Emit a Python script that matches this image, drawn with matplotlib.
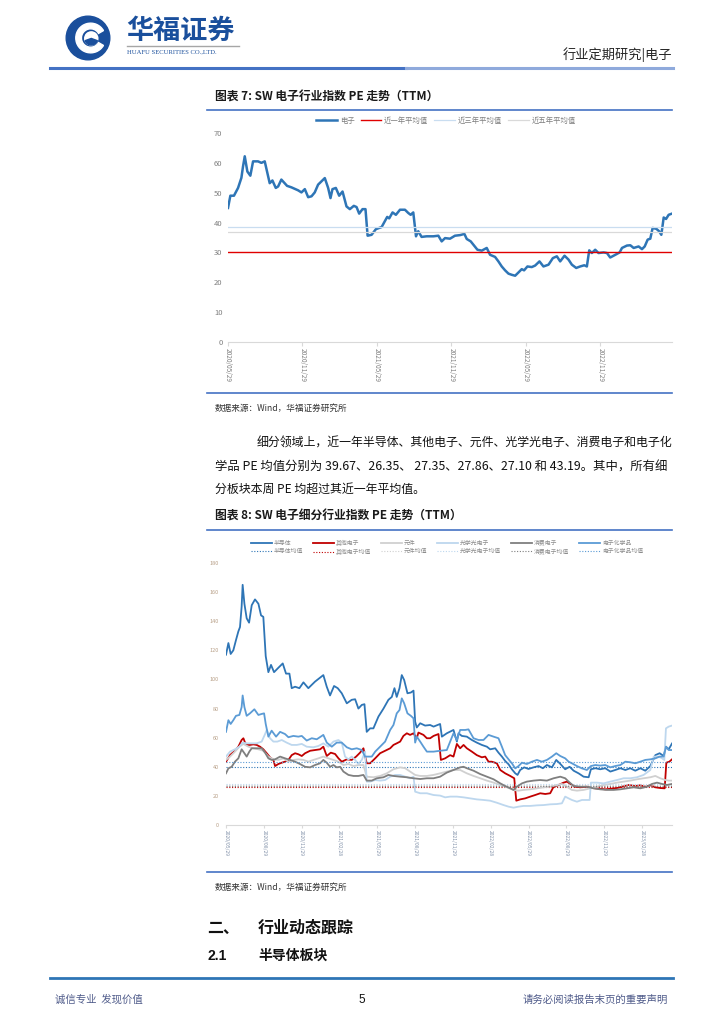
import matplotlib
matplotlib.use("Agg")
import matplotlib.pyplot as plt
from matplotlib.lines import Line2D
from matplotlib.patches import Circle, Wedge

plt.rcParams['font.family'] = ['Noto Sans CJK SC', 'DejaVu Sans']

# -------- data: chart 7 (SW electronics PE, months since 2020/05/29) --------
ele_month = [0, 0.19, 0.48, 0.81, 1.08, 1.21, 1.35, 1.56, 1.80, 2.02,
             2.42, 2.69, 2.96, 3.36, 3.58, 3.85, 4.04, 4.30, 4.76, 5.11,
             5.65, 5.92, 6.19, 6.46, 6.73, 6.99, 7.26, 7.80, 8.07, 8.26,
             8.42, 8.69, 8.96, 9.23, 9.55, 9.82, 10.14, 10.36, 10.57, 10.84,
             11.08, 11.25, 11.57, 11.92, 12.38, 12.83, 12.99, 13.26, 13.53, 13.86,
             14.26, 14.53, 14.72, 14.93, 15.15, 15.33, 15.60, 16.01, 16.55, 16.95,
             17.22, 17.49, 17.89, 18.29, 18.70, 19.05, 19.24, 19.56, 19.83, 20.10,
             20.45, 20.85, 21.12, 21.52, 21.79, 22.06, 22.33, 22.60, 22.87, 23.14,
             23.41, 23.67, 23.86, 24.13, 24.48, 24.75, 25.10, 25.42, 25.83, 26.18,
             26.50, 26.77, 27.12, 27.44, 27.71, 28.06, 28.38, 28.71, 28.92, 29.11,
             29.32, 29.59, 29.86, 30.27, 30.54, 30.80, 31.21, 31.56, 31.75, 32.15,
             32.42, 32.69, 33.09, 33.36, 33.58, 33.82, 34.03, 34.22, 34.52, 34.74,
             34.92, 35.11, 35.30, 35.51, 35.78]
ele_pe = [44.9, 49.0, 49.0, 51.6, 55.0, 58.8, 62.2, 57.1, 55.7, 60.5,
          60.5, 60.0, 60.5, 53.2, 54.1, 51.6, 52.1, 54.4, 52.3, 51.8,
          50.8, 50.1, 51.2, 48.5, 48.8, 50.1, 52.7, 54.9, 51.6, 48.2,
          51.2, 51.6, 49.0, 50.4, 45.4, 44.5, 45.6, 45.2, 43.0, 44.5,
          44.5, 35.6, 35.9, 37.8, 38.5, 41.9, 41.4, 43.4, 42.6, 44.3,
          44.3, 43.2, 42.6, 43.4, 35.4, 37.1, 35.2, 35.4, 35.4, 35.6,
          33.7, 34.8, 34.6, 35.6, 35.8, 36.2, 34.5, 33.7, 32.3, 30.9,
          30.6, 31.5, 29.2, 28.5, 27.0, 25.3, 24.0, 22.9, 22.5, 22.2,
          23.3, 24.4, 24.0, 25.3, 25.1, 25.6, 27.0, 25.3, 25.9, 28.1,
          28.7, 27.0, 28.9, 27.6, 25.9, 24.8, 25.3, 25.7, 25.3, 30.7,
          29.8, 30.9, 29.8, 30.0, 29.8, 28.3, 29.2, 30.0, 31.5, 32.3,
          32.4, 31.5, 32.0, 31.1, 32.0, 34.3, 34.6, 38.2, 37.9, 37.1,
          35.9, 41.7, 41.2, 42.6, 43.0]
avg_1y = 30.0
avg_3y = 38.5
avg_5y = 37.0
ticks7 = [0, 6, 12, 18, 24, 30]
tick_labels7 = ["2020/05/29", "2020/11/29", "2021/05/29",
                "2021/11/29", "2022/05/29", "2022/11/29"]

# -------- data: chart 8 (sub-sector PE) --------
semi_m = [0, 0.19, 0.37, 0.58, 0.79, 0.98, 1.11, 1.24, 1.32, 1.46, 1.64, 1.83, 2.04, 2.30,
          2.57, 2.78, 2.96, 3.15, 3.36, 3.57, 3.81, 4.15, 4.50, 4.76, 5.03, 5.21, 5.48,
          5.82, 6.14, 6.53, 7.06, 7.72, 7.99, 8.25, 8.57, 8.86, 9.18, 9.58, 9.97, 10.24,
          10.50, 10.77, 10.98, 11.16, 11.43, 11.69, 12.09, 12.49, 12.88, 13.15, 13.36,
          13.54, 13.76, 13.94, 14.13, 14.39, 14.66, 14.87, 15.00, 15.13, 15.40, 15.79,
          16.19, 16.46, 16.98, 17.12, 17.51, 18.04, 18.31, 18.44, 18.70, 19.10, 19.50,
          19.89, 20.29, 20.69, 20.95, 21.35, 21.61, 21.88, 22.14, 22.41, 22.67, 22.94,
          23.12, 23.33, 23.65, 23.99, 24.39, 24.79, 25.13, 25.45, 25.85, 26.19, 26.51,
          26.90, 27.25, 27.57, 27.96, 28.36, 28.76, 28.94, 29.29, 29.68, 30.08, 30.48,
          30.87, 31.27, 31.67, 32.06, 32.46, 32.86, 33.25, 33.65, 34.05, 34.39, 34.71,
          34.89, 35.11, 35.37]
semi_pe = [117, 125, 117.5, 120, 127, 133, 136, 150, 165, 152, 142, 139, 151, 155,
           152, 144, 143, 116, 105, 110, 105, 108, 111, 104, 104, 94, 95,
           94, 98, 94, 98.5, 103, 95, 89, 95.5, 94, 90.5, 83.6, 86, 86.4,
           80, 82.5, 83, 64, 66.4, 66.4, 74.5, 80, 86, 88, 94,
           88, 94, 103, 99.6, 90.5, 91, 92.3, 71, 67, 69.9, 68.3,
           68.7, 67.6, 69.4, 60.7, 63, 65.3, 57.3, 63, 61.2, 60.7, 58.4,
           56.6, 55, 53.8, 52, 52.7, 49.7, 47, 44, 41.7, 38.3, 35.5,
           34.4, 37.8, 39.6, 38.5, 39.6, 40.5, 39, 41.2, 39.6, 44.7, 42,
           38.3, 40, 37.3, 35.5, 33.2, 32.8, 38.3, 39, 38.3, 39, 36.7,
           37.8, 39, 37.8, 39, 37.3, 39, 37.3, 40.5, 48, 49.3, 47.4,
           53.8, 52, 56]

chem_m = [0, 0.19, 0.37, 0.58, 0.79, 1.06, 1.24, 1.32, 1.46, 1.64, 1.90, 2.25, 2.57,
          2.83, 3.02, 3.15, 3.36, 3.62, 3.97, 4.29, 4.68, 4.95, 5.34, 5.74, 6.01, 6.40,
          6.80, 7.20, 7.72, 7.99, 8.39, 8.78, 9.18, 9.58, 9.97, 10.37, 10.77, 11.03,
          11.30, 11.56, 11.83, 12.22, 12.62, 13.02, 13.28, 13.54, 13.76, 13.94, 14.13,
          14.39, 14.66, 14.87, 15.00, 15.13, 15.40, 15.66, 15.93, 16.46, 16.98, 17.51,
          18.04, 18.31, 18.57, 18.97, 19.23, 19.63, 20.03, 20.42, 20.82, 21.22, 21.61,
          21.88, 22.14, 22.41, 22.67, 22.94, 23.20, 23.47, 23.86, 24.26, 24.66, 25.05,
          25.45, 25.85, 26.19, 26.51, 26.90, 27.17, 27.43, 27.83, 28.23, 28.62, 28.94,
          29.29, 29.68, 30.08, 30.48, 30.87, 31.27, 31.67, 32.06, 32.46, 32.86, 33.25,
          33.65, 34.05, 34.39, 34.71, 34.89, 35.11, 35.37]
chem_pe = [64, 72, 69.4, 72, 75, 75.6, 81, 89, 81, 75, 76.7, 79.5, 75.6,
           76.3, 76.7, 69.4, 60.7, 64.8, 60.7, 64, 62.5, 60.3, 61.2, 60.7, 61.2, 58,
           59.6, 58.9, 61.9, 56.6, 53.8, 56.6, 56.6, 53.4, 52, 52.7, 51.5, 47,
           47, 47, 50.4, 53.8, 57.3, 65.3, 68.7, 76.7, 79, 87, 83.6,
           76.7, 75, 73.3, 56.6, 60.7, 57.3, 53.8, 50.4, 50.4, 51, 51.5,
           63, 58.4, 65.3, 65.3, 65.7, 59.6, 58.4, 58.4, 61.9, 60.7, 59.6,
           53.8, 48, 45.1, 42.4, 38.9, 40.5, 42.8, 41.9, 43.5, 44.7, 43.5,
           44.7, 47, 49.3, 47.4, 45.8, 43.5, 42.4, 40.5, 38.9, 37.8, 40.5,
           41.2, 40.8, 41.2, 39.6, 40.5, 41.2, 43.5, 43.1, 42.4, 43.5, 44.7,
           45.1, 45.8, 47, 47, 53.8, 51.5, 51.5]

other_m = [0, 0.32, 0.71, 0.98, 1.24, 1.38, 1.51, 1.64, 1.90, 2.17, 2.43, 2.70, 2.96,
           3.23, 3.49, 3.76, 3.89, 4.15, 4.42, 4.68, 4.95, 5.21, 5.48, 5.74, 6.01, 6.27,
           6.67, 7.06, 7.46, 7.72, 7.99, 8.31, 8.65, 8.92, 9.18, 9.58, 9.97, 10.32,
           10.63, 10.90, 11.16, 11.43, 11.83, 12.22, 12.62, 13.02, 13.28, 13.54, 13.81,
           14.07, 14.34, 14.60, 14.87, 15.13, 15.26, 15.66, 15.93, 16.19, 16.46, 16.85,
           17.04, 17.38, 17.78, 18.04, 18.31, 18.57, 18.84, 19.10, 19.50, 19.89, 20.29,
           20.56, 20.82, 21.08, 21.48, 21.75, 22.14, 22.54, 22.86, 23.02, 23.33, 23.73,
           24.13, 24.52, 24.92, 25.32, 25.71, 25.98, 26.38, 26.77, 27.04, 27.30, 27.70,
           28.10, 28.62, 29.02, 29.55, 30.08, 30.61, 31.01, 31.40, 31.93, 32.46, 32.86,
           33.25, 33.65, 34.05, 34.44, 34.79, 34.92, 35.16, 35.37]
other_pe = [43.5, 48, 51, 53.8, 58.4, 59.6, 56.6, 55, 55, 55.4, 55, 53.8, 52,
            49.3, 46.5, 44.7, 40.5, 41.9, 42.8, 43.5, 44.7, 48, 49.3, 48.6, 47.4, 49.3,
            51, 51.5, 52, 53.8, 47.4, 49.7, 48.8, 45.8, 43.5, 45.1, 44.7, 47,
            49.7, 52.7, 42.4, 42.4, 45.8, 49.3, 51, 52.7, 55, 56.1, 57.3,
            61.2, 63, 61.9, 63, 59.6, 63.5, 61.9, 59.6, 59.6, 61.2, 62.5,
            44.7, 45.8, 48, 47, 55.7, 52.7, 55, 52.7, 50.4, 48, 46.5,
            47, 43.5, 43.5, 42.4, 37.8, 35.5, 33.7, 32.1, 16.7, 17.6, 18.3,
            19.5, 20.6, 21.8, 21.3, 21.8, 26.3, 27.5, 29.1, 29.8, 28.2, 26.3,
            25.9, 26.3, 25.4, 25, 24.5, 25, 25.4, 26.3, 27.5, 26.8, 27.3,
            26.3, 27.3, 25.9, 25.4, 25.2, 42.8, 43.5, 45.1]

opt_m = [0, 0.32, 0.71, 1.06, 1.32, 1.64, 2.04, 2.43, 2.83, 3.10, 3.23, 3.49, 3.76,
         4.07, 4.42, 4.81, 5.21, 5.61, 6.01, 6.40, 6.93, 7.33, 7.72, 8.12, 8.52, 8.92,
         9.18, 9.44, 9.71, 9.97, 10.24, 10.50, 10.77, 11.03, 11.16, 11.43, 11.83, 12.22,
         12.62, 13.02, 13.41, 13.81, 14.21, 14.60, 14.87, 15.00, 15.40, 15.93, 16.46,
         16.98, 17.38, 17.78, 18.31, 18.84, 19.37, 19.89, 20.42, 20.95, 21.48, 22.01,
         22.41, 22.80, 23.20, 23.60, 24.13, 24.66, 25.19, 25.71, 26.24, 26.64, 26.90,
         27.17, 27.43, 27.83, 28.23, 28.84, 28.94, 29.42, 29.95, 30.48, 31.01, 31.53,
         32.06, 32.59, 33.12, 33.65, 33.92, 34.31, 34.58, 34.76, 34.89, 35.11, 35.37]
opt_pe = [47, 50.4, 52, 53.8, 56.6, 56.1, 56.1, 56.1, 57.3, 62.5, 65.3, 59.6, 57.3,
          57.3, 58.4, 56.6, 55, 55, 55.7, 53.8, 53.4, 54.3, 56.1, 53.8, 57.3, 58.4,
          56.6, 47, 45.1, 47, 44.7, 41.9, 44.7, 50.4, 29.8, 29.8, 30.9, 30.5,
          30.9, 33.2, 34.4, 34.4, 33.2, 32.1, 33.2, 22.9, 21.8, 21.8, 20.6,
          20.2, 19, 19.5, 19.5, 19, 18.3, 17.6, 17.2, 16.7, 15.3, 13.7,
          12.6, 11.9, 12.6, 13.1, 13.1, 13.5, 13.7, 14.2, 14.4, 14.9, 19.5,
          18.3, 17.2, 16, 17.2, 17.2, 29.1, 29.1, 28.6, 29.8, 30.9, 32.1,
          32.1, 32.8, 34.4, 37.8, 47, 47, 45.8, 44.7, 66.4, 67.6, 68.3]

comp_m = [0, 0.32, 0.71, 1.06, 1.38, 1.77, 2.17, 2.57, 2.96, 3.36, 3.76, 4.15, 4.55,
          4.95, 5.34, 5.74, 6.14, 6.53, 6.93, 7.33, 7.72, 8.12, 8.52, 8.92, 9.31, 9.71,
          10.11, 10.50, 10.90, 11.16, 11.69, 12.22, 12.75, 13.28, 13.81, 14.21, 14.60,
          15.00, 15.40, 15.93, 16.46, 16.98, 17.51, 18.04, 18.57, 19.10, 19.63, 20.16,
          20.69, 21.22, 21.75, 22.28, 22.80, 23.20, 23.60, 24.13, 24.66, 25.19, 25.71,
          26.24, 26.64, 27.04, 27.43, 27.83, 28.36, 28.89, 29.42, 29.95, 30.48, 31.01,
          31.53, 32.06, 32.59, 33.12, 33.65, 34.05, 34.44, 34.84, 35.11, 35.37]
comp_pe = [44.7, 47, 50.4, 53.8, 55.7, 53.8, 52.7, 52, 51, 47, 45.1, 44.7, 45.8,
           43.5, 44.7, 45.1, 44.7, 43.5, 44.7, 45.8, 47, 45.8, 44.7, 43.5, 41.2, 41.9,
           40.5, 41.2, 41.2, 33.2, 32.8, 33.7, 35.5, 38.3, 39.6, 39, 36.7,
           34.4, 33.7, 33.7, 34.4, 35.5, 36.7, 37.8, 37.8, 35.5, 33.7, 32.1,
           30.5, 29.1, 27.5, 25.9, 24.1, 23.6, 24.1, 24.5, 25.2, 25.9, 26.3,
           27.5, 28.2, 26.3, 24.1, 23.6, 24.1, 25.2, 26.3, 27.5, 28.2, 29.1,
           29.8, 30.5, 31.4, 32.1, 32.8, 33.7, 32.1, 30.9, 30.5, 30.5]

cons_m = [0, 0.19, 0.45, 0.71, 0.98, 1.24, 1.46, 1.64, 1.85, 2.04, 2.83, 3.10, 3.36,
          3.62, 3.89, 4.29, 4.68, 5.08, 5.48, 5.87, 6.27, 6.67, 7.06, 7.46, 7.72, 7.99,
          8.25, 8.52, 8.78, 9.05, 9.31, 9.71, 10.11, 10.50, 10.90, 11.16, 11.56, 11.96,
          12.49, 12.88, 13.28, 13.81, 14.34, 14.87, 15.40, 15.93, 16.46, 16.98, 17.51,
          18.04, 18.57, 18.84, 19.10, 19.63, 20.16, 20.69, 21.22, 21.75, 22.14, 22.54,
          22.80, 23.07, 23.47, 23.86, 24.39, 24.92, 25.45, 25.98, 26.51, 26.90, 27.17,
          27.57, 28.10, 28.62, 29.15, 29.68, 30.21, 30.74, 31.27, 31.80, 32.33, 32.86,
          33.39, 33.78, 34.18, 34.58, 34.97, 35.37]
cons_pe = [35.5, 38.9, 40, 43.5, 45.8, 52, 49.3, 47, 50.4, 52.7, 52.7, 49.7, 45.8,
           44.7, 45.1, 47, 45.8, 44.7, 43.5, 41.9, 40, 39.6, 41.2, 42.4, 44.7, 42.8,
           40, 41.2, 39.6, 40, 36.7, 34.4, 33.7, 33.7, 34.4, 30.5, 30.5, 32.1,
           32.8, 34.4, 33.7, 33.2, 32.8, 32.1, 31.6, 32.1, 32.1, 33.2, 36,
           37.8, 39.6, 40, 39, 37.3, 35, 33.2, 31.4, 28.6, 26.8, 25.2,
           24.1, 26.3, 28.6, 29.8, 30.5, 30.9, 30.5, 32.1, 33.2, 32.1, 29.8,
           26.8, 26.3, 26.3, 25.2, 24.5, 24.1, 24.1, 24.5, 25.2, 25.9, 25.2,
           26.3, 28.2, 29.1, 28.2, 27.5, 28.2]

# near-one-year averages quoted in the text
avg_semi = 39.67
avg_other = 26.35
avg_comp = 27.35
avg_opt = 27.86
avg_cons = 27.10
avg_chem = 43.19

ticks8 = [0, 3, 6, 9, 12, 15, 18, 21, 24, 27, 30, 33]
tick_labels8 = ["2020/05/29", "2020/08/29", "2020/11/29", "2021/02/28",
                "2021/05/29", "2021/08/29", "2021/11/29", "2022/02/28",
                "2022/05/29", "2022/08/29", "2022/11/29", "2023/02/28"]

# -------- page helpers (pixel coords -> figure fraction) --------
W, H = 724, 1024
fig = plt.figure(figsize=(W / 100, H / 100), dpi=100)
fig.patch.set_facecolor("white")


def fx(x):
    return x / W


def fy(y):
    return 1 - y / H


def hline(x1, x2, y, color, lw):
    fig.add_artist(Line2D([fx(x1), fx(x2)], [fy(y), fy(y)],
                          transform=fig.transFigure, color=color, lw=lw))


def text(x, y, s, **kw):
    kw.setdefault("va", "center")
    fig.text(fx(x), fy(y), s, **kw)


# -------- header --------
logo = fig.add_axes([fx(64), fy(62), fx(48), 48 / H])
logo.set_xlim(-1.1, 1.1)
logo.set_ylim(-1.1, 1.1)
logo.set_aspect("equal")
logo.axis("off")
logo.add_patch(Circle((0, 0), 1.0, color="#1A4F9C"))
logo.add_patch(Wedge((0.12, 0.0), 0.68, 30, 330, width=0.26, color="white"))
logo.add_patch(Circle((0.15, -0.02), 0.3, color="white"))
logo.add_patch(Wedge((0.15, -0.02), 0.3, 200, 340, color="#1A4F9C"))

text(126, 31, "华福证券", fontsize=19.5, fontweight="bold", color="#1A4F9C")
hline(127, 239, 46, "#A6A6A6", 1.0)
text(127, 52, "HUAFU SECURITIES CO.,LTD.", fontsize=4.8, color="#1A4F9C",
     family=["Liberation Serif", "DejaVu Serif"])
text(672, 55, "行业定期研究|电子", fontsize=9.5, color="#262626", ha="right")
hline(50, 406, 68, "#4472C4", 2.2)
hline(406, 673, 68, "#8FAADC", 2.2)

# -------- chart 7 --------
text(215, 97, "图表 7: SW 电子行业指数 PE 走势（TTM）", fontsize=8.5,
     fontweight="bold", color="#1A1A1A")
hline(207, 672, 110, "#4472C4", 1.2)

ax1 = fig.add_axes([fx(228), fy(342), fx(672) - fx(228), fy(133) - fy(342)])
ax1.plot(ele_month, ele_pe, color="#2E75B6", lw=1.8, label="电子")
ax1.axhline(avg_1y, color="#E00000", lw=1.0, label="近一年平均值")
ax1.axhline(avg_3y, color="#C9DDF0", lw=0.9, label="近三年平均值")
ax1.axhline(avg_5y, color="#D9D9D9", lw=0.9, label="近五年平均值")
ax1.set_xlim(0, ele_month[-1])
ax1.set_ylim(0, 70)
ax1.set_yticks(range(0, 71, 10))
ax1.set_xticks(ticks7)
ax1.set_xticklabels(tick_labels7, rotation=270, fontsize=4.7, color="#7F7F7F")
ax1.tick_params(axis="y", length=0, labelsize=5.5, labelcolor="#7F7F7F", pad=4)
ax1.tick_params(axis="x", length=3, color="#D9D9D9", pad=1)
for side in ["top", "right", "left"]:
    ax1.spines[side].set_visible(False)
ax1.spines["bottom"].set_color("#D9D9D9")
ax1.legend(ncol=4, loc="center", bbox_to_anchor=(fx(446), fy(121)),
           bbox_transform=fig.transFigure, frameon=False, fontsize=5.3,
           handlelength=2.8, handletextpad=0.4, columnspacing=0.8,
           labelcolor="#7F7F7F")

hline(207, 672, 393, "#4472C4", 1.2)
text(215, 408, "数据来源：Wind，华福证券研究所", fontsize=6.2, color="#333333")

# -------- paragraph --------
para_lines = [
    "细分领域上，近一年半导体、其他电子、元件、光学光电子、消费电子和电子化",
    "学品 PE 均值分别为 39.67、26.35、 27.35、27.86、27.10 和 43.19。其中，所有细",
    "分板块本周 PE 均超过其近一年平均值。",
]
text(257, 443, para_lines[0], fontsize=8.6, color="#111111")
text(215, 467, para_lines[1], fontsize=8.9, color="#111111")
text(215, 490, para_lines[2], fontsize=8.6, color="#111111")

# -------- chart 8 --------
text(215, 516, "图表 8: SW 电子细分行业指数 PE 走势（TTM）", fontsize=8.5,
     fontweight="bold", color="#1A1A1A")
hline(207, 672, 530, "#4472C4", 1.2)

ax2 = fig.add_axes([fx(226), fy(825), fx(672) - fx(226), fy(563) - fy(825)])
series = [
    ("半导体", semi_m, semi_pe, avg_semi, "#2E75B6"),
    ("其他电子", other_m, other_pe, avg_other, "#C00000"),
    ("元件", comp_m, comp_pe, avg_comp, "#D0D0D0"),
    ("光学光电子", opt_m, opt_pe, avg_opt, "#BDD7EE"),
    ("消费电子", cons_m, cons_pe, avg_cons, "#7F7F7F"),
    ("电子化学品", chem_m, chem_pe, avg_chem, "#5B9BD5"),
]
handles = []
for name, xm, ys, avg, col in series:
    h1, = ax2.plot(xm, ys, color=col, lw=1.3, label=name)
    h2 = ax2.axhline(avg, color=col, lw=0.8, ls=(0, (1, 1.5)), label=name + "均值")
    handles += [h1, h2]
ax2.set_xlim(0, 35.37)
ax2.set_ylim(0, 180)
ax2.set_yticks(range(0, 181, 20))
ax2.set_xticks(ticks8)
ax2.set_xticklabels(tick_labels8, rotation=270, fontsize=3.6, color="#8090A8")
ax2.tick_params(axis="y", length=0, labelsize=4.0, labelcolor="#B8A088", pad=5)
ax2.tick_params(axis="x", length=2.5, color="#D9D9D9", pad=1)
for side in ["top", "right", "left"]:
    ax2.spines[side].set_visible(False)
ax2.spines["bottom"].set_color("#D9D9D9")
ax2.legend(handles=handles, ncol=6, loc="center", bbox_to_anchor=(fx(447), fy(547)),
           bbox_transform=fig.transFigure, frameon=False, fontsize=4.2,
           handlelength=3.6, handletextpad=0.4, columnspacing=1.6,
           labelspacing=0.5, labelcolor="#8C8C8C")

hline(207, 672, 872, "#4472C4", 1.2)
text(215, 887, "数据来源：Wind，华福证券研究所", fontsize=6.2, color="#333333")

# -------- section headings --------
text(207, 928, "二、", fontsize=11.5, fontweight="bold", color="#111111")
text(258, 928, "行业动态跟踪", fontsize=11.5, fontweight="bold", color="#111111")
text(207, 956, "2.1", fontsize=10, fontweight="bold", color="#111111",
     family=["Liberation Sans", "DejaVu Sans"])
text(258, 956, "半导体板块", fontsize=10, fontweight="bold", color="#111111")

# -------- footer --------
hline(50, 673, 978, "#2E75B6", 2.0)
text(55, 1000, "诚信专业  发现价值", fontsize=7.5, color="#4F5B8A")
text(362, 1000, "5", fontsize=8.5, color="#111111", ha="center",
     family=["Liberation Sans", "DejaVu Sans"])
text(668, 1000, "请务必阅读报告末页的重要声明", fontsize=7.5, color="#4F5B8A", ha="right")

fig.savefig("out.png", dpi=100, facecolor="white")
